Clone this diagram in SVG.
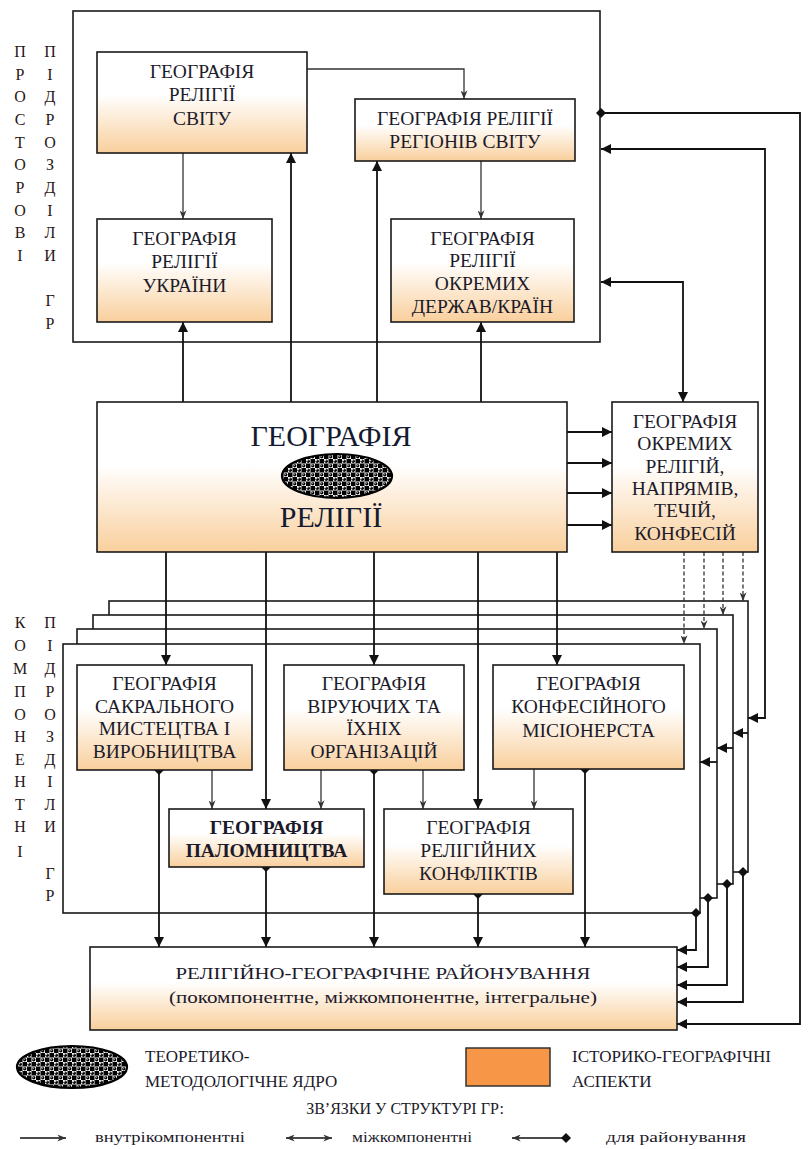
<svg xmlns="http://www.w3.org/2000/svg" width="809" height="1149" viewBox="0 0 809 1149">
<style>
.frame{fill:#fff;stroke:#1a1a1a;stroke-width:1.6}
.box{fill:url(#grad);stroke:#1a1a1a;stroke-width:1.6}
.t{font-family:'Liberation Serif','DejaVu Serif',serif;font-size:19.5px;fill:#1c1a2a;text-anchor:middle}
.tb{font-weight:bold}
.side{font-family:'Liberation Serif','DejaVu Serif',serif;font-size:16px;fill:#2a1616;text-anchor:middle}
.big{font-family:'Liberation Serif','DejaVu Serif',serif;font-size:30px;fill:#141a30;text-anchor:middle}
.thin{fill:none;stroke:#333;stroke-width:1.3;marker-end:url(#mThin)}
.dash{fill:none;stroke:#333;stroke-width:1.3;stroke-dasharray:4 2.5;marker-end:url(#mThin)}
.main{fill:none;stroke:#111;stroke-width:1.8;marker-end:url(#mFill)}
.both{fill:none;stroke:#111;stroke-width:1.8;marker-start:url(#mFill);marker-end:url(#mFill)}
.reg{fill:none;stroke:#111;stroke-width:1.8;marker-start:url(#mDia);marker-end:url(#mFill)}
.leg{font-family:'Liberation Serif','DejaVu Serif',serif;font-size:17px;fill:#1c1a2a}
</style>
<defs>
<linearGradient id="grad" x1="0" y1="0" x2="0" y2="1">
<stop offset="0" stop-color="#ffffff"/>
<stop offset="0.42" stop-color="#ffffff"/>
<stop offset="1" stop-color="#f9cf9c"/>
</linearGradient>
<pattern id="core" width="9" height="9" patternUnits="userSpaceOnUse">
<rect width="9" height="9" fill="#fff"/>
<rect x="4.5" y="0" width="4.5" height="4.5" fill="#000"/>
<rect x="0" y="4.5" width="4.5" height="4.5" fill="#000"/>
<circle cx="2.25" cy="2.25" r="1.7" fill="#000"/>
<circle cx="6.75" cy="6.75" r="1.7" fill="#000"/>
<circle cx="1.7" cy="1.7" r="0.6" fill="#fff"/>
<circle cx="6.2" cy="6.2" r="0.6" fill="#fff"/>
</pattern>
<marker id="mThin" viewBox="0 0 10 8" refX="10" refY="4" markerWidth="9" markerHeight="7" markerUnits="userSpaceOnUse" orient="auto-start-reverse">
<path d="M0,0 L10,4 L0,8 L3,4 z" fill="#333"/>
</marker>
<marker id="mFill" viewBox="0 0 10 10" refX="10" refY="5" markerWidth="11" markerHeight="10" markerUnits="userSpaceOnUse" orient="auto-start-reverse">
<path d="M0,0 L10,5 L0,10 z" fill="#111"/>
</marker>
<marker id="mDia" viewBox="0 0 10 10" refX="5" refY="5" markerWidth="10" markerHeight="10" markerUnits="userSpaceOnUse" orient="auto">
<path d="M0,5 L5,0 L10,5 L5,10 z" fill="#111"/>
</marker>
</defs>

<g id="spatial-frame">
<rect class="frame" x="73" y="11" width="527" height="331" fill="none"/>
</g>
<g id="component-stack">
<rect class="frame" x="109" y="601" width="639" height="271"/>
<rect class="frame" x="93" y="615" width="640" height="269"/>
<rect class="frame" x="77" y="629" width="640" height="269"/>
<rect class="frame" x="63" y="644" width="637" height="269"/>
</g>

<g id="side-labels">
<g class="side">
<text x="20" y="57">П</text><text x="20" y="80">Р</text><text x="20" y="102">О</text><text x="20" y="125">С</text><text x="20" y="148">Т</text><text x="20" y="170">О</text><text x="20" y="193">Р</text><text x="20" y="216">О</text><text x="20" y="238">В</text><text x="20" y="261">І</text>
<text x="50" y="57">П</text><text x="50" y="80">І</text><text x="50" y="102">Д</text><text x="50" y="125">Р</text><text x="50" y="148">О</text><text x="50" y="170">З</text><text x="50" y="193">Д</text><text x="50" y="216">І</text><text x="50" y="238">Л</text><text x="50" y="261">И</text><text x="50" y="306">Г</text><text x="50" y="329">Р</text>
<text x="20" y="628">К</text><text x="20" y="651">О</text><text x="20" y="674">М</text><text x="20" y="697">П</text><text x="20" y="720">О</text><text x="20" y="742">Н</text><text x="20" y="765">Е</text><text x="20" y="787">Н</text><text x="20" y="810">Т</text><text x="20" y="832">Н</text><text x="20" y="857">І</text>
<text x="50" y="628">П</text><text x="50" y="651">І</text><text x="50" y="674">Д</text><text x="50" y="697">Р</text><text x="50" y="720">О</text><text x="50" y="742">З</text><text x="50" y="765">Д</text><text x="50" y="787">І</text><text x="50" y="810">Л</text><text x="50" y="832">И</text><text x="50" y="879">Г</text><text x="50" y="901">Р</text>
</g>
</g>

<g id="connectors">
<path class="thin" d="M183,153 V219"/>
<path class="thin" d="M307,69 H464 V99"/>
<path class="thin" d="M481,161 V219"/>
<path class="thin" d="M212,770 V809"/>
<path class="thin" d="M321,770 V809"/>
<path class="thin" d="M423,770 V809"/>
<path class="thin" d="M534,769 V809"/>
<path class="dash" d="M684,552 V644"/>
<path class="dash" d="M704,552 V629"/>
<path class="dash" d="M723,552 V615"/>
<path class="dash" d="M743,552 V601"/>
<path class="main" d="M183,402 V322"/>
<path class="main" d="M291,402 V153"/>
<path class="main" d="M377,402 V161"/>
<path class="main" d="M481,402 V322"/>
<path class="main" d="M166,552 V665"/>
<path class="main" d="M266,552 V809"/>
<path class="main" d="M374,552 V665"/>
<path class="main" d="M478,552 V809"/>
<path class="main" d="M557,552 V665"/>
<path class="main" d="M567,432 H612"/>
<path class="main" d="M567,463 H612"/>
<path class="main" d="M567,493 H612"/>
<path class="main" d="M567,525 H612"/>
<path class="both" d="M601,282 H683 V402"/>
<path class="both" d="M601,149 H765 V718 H748"/>
<path class="main" d="M748,733 H733"/>
<path class="main" d="M733,748 H717"/>
<path class="main" d="M717,762 H700"/>
<path class="reg" d="M601,113 H800 V1024 H677"/>
<path class="reg" d="M159,770 V947"/>
<path class="reg" d="M374,770 V947"/>
<path class="reg" d="M585,769 V947"/>
<path class="reg" d="M266,867 V947"/>
<path class="reg" d="M478,894 V947"/>
<path class="reg" d="M696,913 V950 H677"/>
<path class="reg" d="M708,898 V967 H677"/>
<path class="reg" d="M727,884 V985 H677"/>
<path class="reg" d="M743,872 V1002 H677"/>
</g>

<g id="world">
<rect class="box" x="97" y="52" width="210" height="101"/>
<text class="t" x="202" y="78">ГЕОГРАФІЯ</text>
<text class="t" x="202" y="101">РЕЛІГІЇ</text>
<text class="t" x="202" y="125">СВІТУ</text>
</g>
<g id="ukraine">
<rect class="box" x="97" y="219" width="175" height="103"/>
<text class="t" x="184.5" y="245">ГЕОГРАФІЯ</text>
<text class="t" x="184.5" y="268">РЕЛІГІЇ</text>
<text class="t" x="184.5" y="292">УКРАЇНИ</text>
</g>
<g id="regions">
<rect class="box" x="355" y="99" width="220" height="62"/>
<text class="t" x="465" y="125">ГЕОГРАФІЯ РЕЛІГІЇ</text>
<text class="t" x="465" y="148">РЕГІОНІВ СВІТУ</text>
</g>
<g id="countries">
<rect class="box" x="391" y="219" width="183" height="103"/>
<text class="t" x="482.5" y="245">ГЕОГРАФІЯ</text>
<text class="t" x="482.5" y="267">РЕЛІГІЇ</text>
<text class="t" x="482.5" y="290">ОКРЕМИХ</text>
<text class="t" x="482.5" y="313">ДЕРЖАВ/КРАЇН</text>
</g>
<g id="core-geography">
<rect class="box" x="97" y="402" width="470" height="150"/>
<text class="big" x="331" y="446">ГЕОГРАФІЯ</text>
<ellipse cx="337" cy="476" rx="55" ry="22" fill="url(#core)" stroke="#000" stroke-width="2.2"/>
<text class="big" x="331" y="527">РЕЛІГІЇ</text>
</g>
<g id="religions">
<rect class="box" x="612" y="402" width="146" height="150"/>
<text class="t" x="685" y="428">ГЕОГРАФІЯ</text>
<text class="t" x="685" y="450">ОКРЕМИХ</text>
<text class="t" x="685" y="473">РЕЛІГІЙ,</text>
<text class="t" x="685" y="495">НАПРЯМІВ,</text>
<text class="t" x="685" y="517">ТЕЧІЙ,</text>
<text class="t" x="685" y="540">КОНФЕСІЙ</text>
</g>
<g id="sacral">
<rect class="box" x="77" y="665" width="175" height="105"/>
<text class="t" x="164.5" y="690">ГЕОГРАФІЯ</text>
<text class="t" x="164.5" y="713">САКРАЛЬНОГО</text>
<text class="t" x="164.5" y="735">МИСТЕЦТВА І</text>
<text class="t" x="164.5" y="758">ВИРОБНИЦТВА</text>
</g>
<g id="believers">
<rect class="box" x="284" y="665" width="180" height="105"/>
<text class="t" x="374" y="690">ГЕОГРАФІЯ</text>
<text class="t" x="374" y="713">ВІРУЮЧИХ ТА</text>
<text class="t" x="374" y="735">ЇХНІХ</text>
<text class="t" x="374" y="758">ОРГАНІЗАЦІЙ</text>
</g>
<g id="mission">
<rect class="box" x="493" y="665" width="191" height="104"/>
<text class="t" x="588.5" y="690">ГЕОГРАФІЯ</text>
<text class="t" x="588.5" y="713">КОНФЕСІЙНОГО</text>
<text class="t" x="588.5" y="737">МІСІОНЕРСТА</text>
</g>
<g id="pilgrimage">
<rect class="box" x="169" y="809" width="195" height="58"/>
<text class="t tb" x="266.5" y="834">ГЕОГРАФІЯ</text>
<text class="t tb" x="266.5" y="857">ПАЛОМНИЦТВА</text>
</g>
<g id="conflicts">
<rect class="box" x="384" y="809" width="189" height="85"/>
<text class="t" x="478.5" y="834">ГЕОГРАФІЯ</text>
<text class="t" x="478.5" y="857">РЕЛІГІЙНИХ</text>
<text class="t" x="478.5" y="880">КОНФЛІКТІВ</text>
</g>
<g id="zoning">
<rect class="box" x="90" y="947" width="587" height="83"/>
<text class="t" x="383" y="979" style="font-size:17px" textLength="415" lengthAdjust="spacingAndGlyphs">РЕЛІГІЙНО-ГЕОГРАФІЧНЕ РАЙОНУВАННЯ</text>
<text class="t" x="383" y="1003" style="font-size:17px" textLength="428" lengthAdjust="spacingAndGlyphs">(покомпонентне, міжкомпонентне, інтегральне)</text>
</g>

<g id="legend">
<ellipse cx="72" cy="1067" rx="55" ry="21" fill="url(#core)" stroke="#000" stroke-width="2.2"/>
<text class="leg" x="145" y="1062">ТЕОРЕТИКО-</text>
<text class="leg" x="145" y="1087">МЕТОДОЛОГІЧНЕ ЯДРО</text>
<rect x="466" y="1048" width="84" height="38" fill="#f79646" stroke="#333" stroke-width="1.5"/>
<text class="leg" x="572" y="1062">ІСТОРИКО-ГЕОГРАФІЧНІ</text>
<text class="leg" x="572" y="1087">АСПЕКТИ</text>
<text class="leg" x="405" y="1114" text-anchor="middle" style="font-size:16px">ЗВ’ЯЗКИ У СТРУКТУРІ ГР:</text>
<path d="M20,1138 H66" fill="none" stroke="#111" stroke-width="1.3" marker-end="url(#mThin)"/>
<text class="leg" x="95" y="1142" style="font-size:15px" textLength="150" lengthAdjust="spacingAndGlyphs">внутрікомпонентні</text>
<path d="M286,1138 H332" fill="none" stroke="#111" stroke-width="1.3" marker-start="url(#mThin)" marker-end="url(#mThin)"/>
<text class="leg" x="352" y="1142" style="font-size:15px" textLength="120" lengthAdjust="spacingAndGlyphs">міжкомпонентні</text>
<path d="M566,1138 H512" fill="none" stroke="#111" stroke-width="1.3" marker-start="url(#mDia)" marker-end="url(#mThin)"/>
<text class="leg" x="606" y="1142" style="font-size:15px" textLength="140" lengthAdjust="spacingAndGlyphs">для районування</text>
</g>
</svg>
